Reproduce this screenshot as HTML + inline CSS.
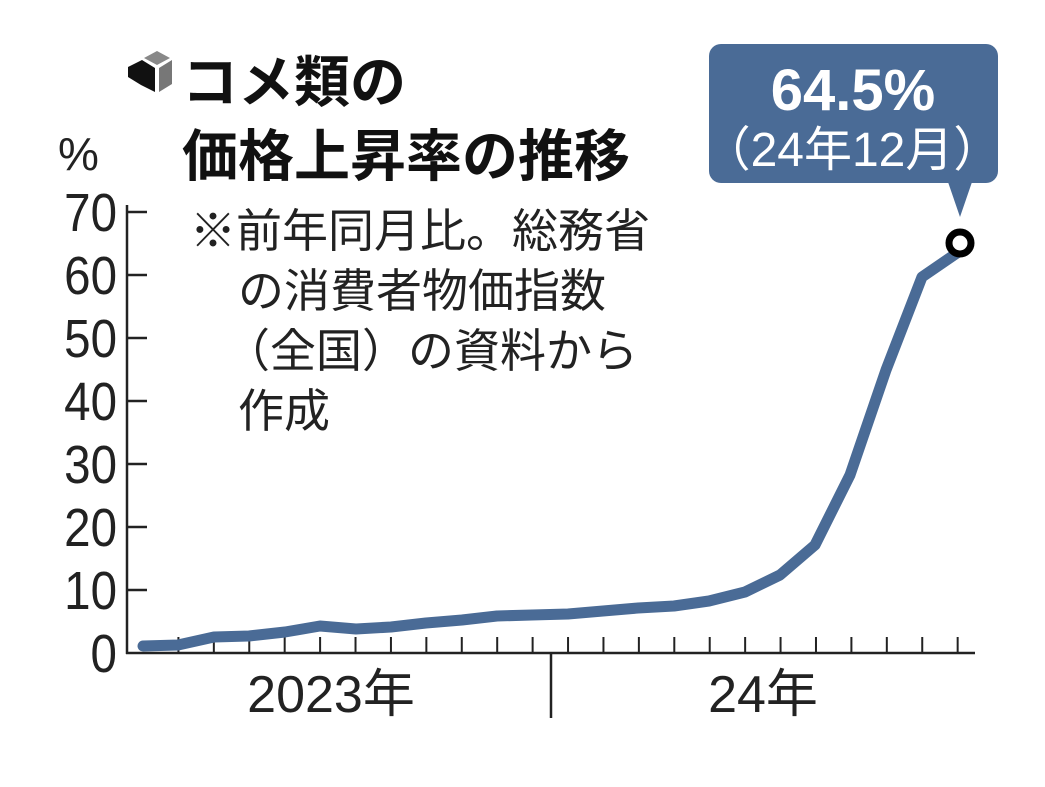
<!DOCTYPE html>
<html><head><meta charset="utf-8"><style>
body{margin:0;background:#fff;}
svg text{font-family:"Liberation Sans","Noto Sans CJK JP",sans-serif;}
</style></head><body>
<svg width="1045" height="782" viewBox="0 0 1045 782" xmlns="http://www.w3.org/2000/svg">
<rect width="1045" height="782" fill="#fff"/>
<polygon points="144,58 157,51 170,58 157,65" fill="#888"/>
<polygon points="128,67 142,60 155,68 155,92 141,85 128,77" fill="#111"/>
<polygon points="159,68 172,60 172,84 159,92" fill="#777"/>
<text x="182" y="102" font-size="56" font-weight="bold" fill="#111">コメ類の</text>
<text x="182" y="176" font-size="56" font-weight="bold" fill="#111">価格上昇率の推移</text>
<text x="58" y="170" font-size="46" fill="#222">%</text>
<g font-size="54" fill="#222" text-anchor="end">
<text x="117" y="231" transform="translate(117,0) scale(0.88,1) translate(-117,0)">70</text>
<text x="117" y="294" transform="translate(117,0) scale(0.88,1) translate(-117,0)">60</text>
<text x="117" y="357" transform="translate(117,0) scale(0.88,1) translate(-117,0)">50</text>
<text x="117" y="420" transform="translate(117,0) scale(0.88,1) translate(-117,0)">40</text>
<text x="117" y="483" transform="translate(117,0) scale(0.88,1) translate(-117,0)">30</text>
<text x="117" y="546" transform="translate(117,0) scale(0.88,1) translate(-117,0)">20</text>
<text x="117" y="609" transform="translate(117,0) scale(0.88,1) translate(-117,0)">10</text>
<text x="117" y="672" transform="translate(117,0) scale(0.88,1) translate(-117,0)">0</text>
</g>
<g stroke="#222" stroke-width="2.5">
<line x1="127" y1="205" x2="127" y2="654"/>
<line x1="126" y1="653" x2="975" y2="653"/>
<line x1="127" y1="212" x2="147" y2="212"/><line x1="127" y1="275" x2="147" y2="275"/>
<line x1="127" y1="338" x2="147" y2="338"/><line x1="127" y1="401" x2="147" y2="401"/>
<line x1="127" y1="464" x2="147" y2="464"/><line x1="127" y1="527" x2="147" y2="527"/>
<line x1="127" y1="590" x2="147" y2="590"/>
<line x1="551" y1="653" x2="551" y2="718"/>
</g>
<g stroke="#222" stroke-width="2" id="ticks"></g>
<g font-size="46" fill="#222">
<text x="190" y="247">※前年同月比。総務省</text>
<text x="238" y="307">の消費者物価指数</text>
<text x="224" y="367">（全国）の資料から</text>
<text x="238" y="427">作成</text>
</g>
<g font-size="52" fill="#222" text-anchor="middle">
<text x="331" y="712">2023年</text>
<text x="763" y="712">24年</text>
</g>
<polyline fill="none" stroke="#4a6b96" stroke-width="11" stroke-linejoin="round" stroke-linecap="round" points="143,646 178,645 214,637 249,636 285,632 320,626 356,629 391,627 426,623 462,620 497,616 532,615 568,614 603,611 638,608 674,606 709,601 745,592 780,575 815,545 850,475 886,370 922,277 957,253"/>
<rect x="709" y="44" width="289" height="139" rx="12" fill="#4a6b96"/>
<polygon points="948,182 972,182 960,217" fill="#4a6b96"/>
<text x="853" y="110" font-size="58" font-weight="bold" fill="#fff" text-anchor="middle">64.5%</text>
<text x="852" y="166" font-size="48" fill="#fff" text-anchor="middle">（24年12月）</text>
<circle cx="960" cy="243" r="11" fill="#fff" stroke="#000" stroke-width="7"/>
</svg>
<script>
var g=document.getElementById('ticks'),s='';
for(var i=1;i<24;i++){var x=143+i*35.42;s+='<line x1="'+x+'" y1="637" x2="'+x+'" y2="653"/>';}
g.innerHTML=s;
</script>
</body></html>
